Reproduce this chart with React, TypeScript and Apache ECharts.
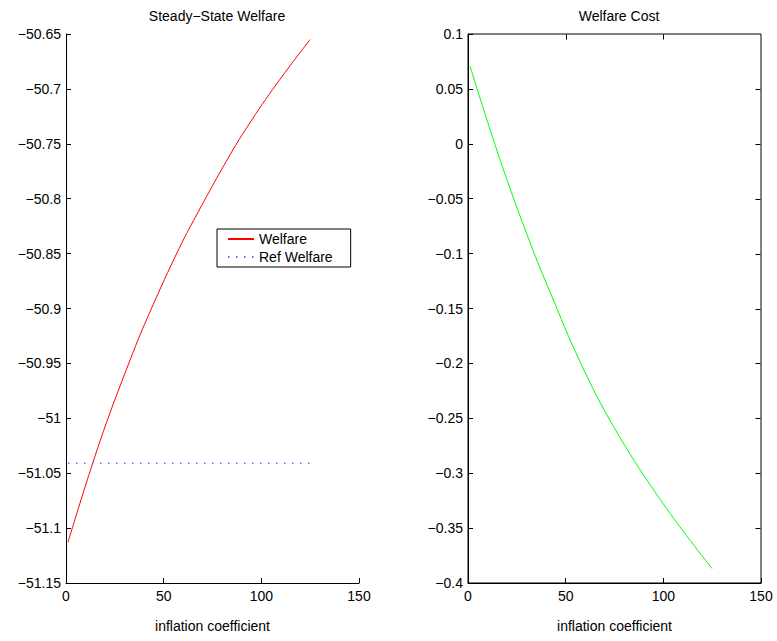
import React, { useEffect, useRef } from "react";
import * as echarts from "echarts";

// Left panel: Steady-State Welfare
const welfareX = [1, 17, 33, 43, 58, 68, 83, 93, 108, 125];
const welfareY = [-51.113, -51.023, -50.946, -50.903, -50.845, -50.811, -50.763, -50.734, -50.695, -50.655];
const refX = [1, 125];
const refY = [-51.041, -51.041];

// Right panel: Welfare Cost
const costX = [1, 16.5, 32, 42, 57.5, 75, 100, 125];
const costY = [0.071, -0.015, -0.091, -0.135, -0.199, -0.259, -0.328, -0.387];

const xRange = { min: 0, max: 150, interval: 50 };
const leftYRange = { min: -51.15, max: -50.65, interval: 0.05 };
const rightYRange = { min: -0.4, max: 0.1, interval: 0.05 };

const titles = ["Steady\u2212State Welfare", "Welfare Cost"];
const xName = "inflation coefficient";

const FONT = "'Liberation Sans', Arial, Helvetica, sans-serif";

const fmt = (v: number) => String(Math.round(v * 100) / 100).replace("-", "\u2212");

const pairs = (xs: number[], ys: number[]) => xs.map((x, i) => [x, ys[i]]);

const innerTicks = (r: { min: number; max: number; interval: number }) => {
  const n = Math.round((r.max - r.min) / r.interval);
  const out: number[] = [];
  for (let k = 1; k < n; k++) out.push(r.min + k * r.interval);
  return out;
};

export default function App() {
  const ref = useRef<HTMLDivElement>(null);
  useEffect(() => {
    if (!ref.current) return;
    const chart = echarts.init(ref.current, undefined, { renderer: "svg" });
    const axisLine = { show: true, onZero: false, lineStyle: { color: "#000", width: 1 } };
    const axisTick = { show: true, inside: true, length: 5, lineStyle: { color: "#000" } };
    const labelStyle = { color: "#000", fontSize: 14, fontFamily: FONT };
    const mainX = (gridIndex: number) => ({
      type: "value",
      gridIndex,
      position: "bottom",
      ...xRange,
      axisLine,
      axisTick,
      splitLine: { show: false },
      axisLabel: { ...labelStyle, margin: 6 },
      name: xName,
      nameLocation: "middle",
      nameGap: 36,
      nameTextStyle: { color: "#000", fontSize: 14, fontFamily: FONT },
    });
    const mainY = (gridIndex: number, r: any) => ({
      type: "value",
      gridIndex,
      position: "left",
      ...r,
      axisLine,
      axisTick,
      splitLine: { show: false },
      axisLabel: { ...labelStyle, margin: 5, formatter: fmt },
    });
    const titleStyle = { color: "#000", fontSize: 14, fontWeight: "normal", fontFamily: FONT };
    const option: any = {
      animation: false,
      backgroundColor: "#fff",
      title: [
        { text: titles[0], left: 212, top: 4, textAlign: "center", textStyle: titleStyle },
        { text: titles[1], left: 614, top: 4, textAlign: "center", textStyle: titleStyle },
      ],
      grid: [
        { left: 66, top: 34, width: 293, height: 549 },
        { left: 468, top: 34, width: 293, height: 549, show: true, borderColor: "#000", borderWidth: 1, backgroundColor: "transparent" },
      ],
      legend: {
        data: ["Welfare", "Ref Welfare"],
        orient: "vertical",
        left: 217,
        top: 229,
        itemWidth: 26,
        itemHeight: 14,
        itemGap: 4,
        padding: [3, 18, 3, 10],
        borderColor: "#000",
        borderWidth: 1,
        backgroundColor: "#fff",
        itemStyle: { opacity: 0 },
        textStyle: { color: "#000", fontSize: 14, fontFamily: FONT },
      },
      xAxis: [mainX(0), mainX(1)],
      yAxis: [mainY(0, leftYRange), mainY(1, rightYRange)],
      series: [
        {
          name: "Welfare",
          type: "line",
          xAxisIndex: 0,
          yAxisIndex: 0,
          data: pairs(welfareX, welfareY),
          smooth: 0.4,
          symbol: "none",
          lineStyle: { color: "#ff0000", width: 1 },
          itemStyle: { color: "#ff0000" },
        },
        {
          name: "Ref Welfare",
          type: "line",
          xAxisIndex: 0,
          yAxisIndex: 0,
          data: pairs(refX, refY),
          symbol: "none",
          lineStyle: { color: "#6b6bff", width: 1.5, type: [1.5, 6.5] },
          itemStyle: { color: "#6b6bff" },
        },
        {
          name: "Welfare Cost",
          type: "line",
          xAxisIndex: 1,
          yAxisIndex: 1,
          data: pairs(costX, costY),
          smooth: 0.4,
          symbol: "none",
          lineStyle: { color: "#00ff00", width: 1 },
          itemStyle: { color: "#00ff00" },
        },
      ],
    };
    chart.setOption(option);

    // Top and right inward tick marks of the right panel, placed via the chart's own scales
    try {
      const finder = { xAxisIndex: 1, yAxisIndex: 1 };
      const tl = chart.convertToPixel(finder as any, [xRange.min, rightYRange.max]) as any;
      const br = chart.convertToPixel(finder as any, [xRange.max, rightYRange.min]) as any;
      if (tl && br) {
        const topY = Math.round(tl[1]) + 0.5;
        const rightX = Math.round(br[0]) - 0.5;
        const elems: any[] = [];
        innerTicks(xRange).forEach((v) => {
          const p = chart.convertToPixel(finder as any, [v, rightYRange.max]) as any;
          if (!p) return;
          const x = Math.round(p[0]) + 0.5;
          elems.push({
            type: "line",
            silent: true,
            shape: { x1: x, y1: topY, x2: x, y2: topY + 5 },
            style: { stroke: "#000", lineWidth: 1 },
          });
        });
        innerTicks(rightYRange).forEach((v) => {
          const p = chart.convertToPixel(finder as any, [xRange.max, v]) as any;
          if (!p) return;
          const y = Math.round(p[1]) + 0.5;
          elems.push({
            type: "line",
            silent: true,
            shape: { x1: rightX - 5, y1: y, x2: rightX, y2: y },
            style: { stroke: "#000", lineWidth: 1 },
          });
        });
        chart.setOption({ graphic: elems });
      }
    } catch (e) {
      // ignore
    }
    return () => chart.dispose();
  }, []);
  return (
    <div
      ref={ref}
      style={{ position: "fixed", left: 0, top: 0, width: 777, height: 641, background: "#fff" }}
    />
  );
}
